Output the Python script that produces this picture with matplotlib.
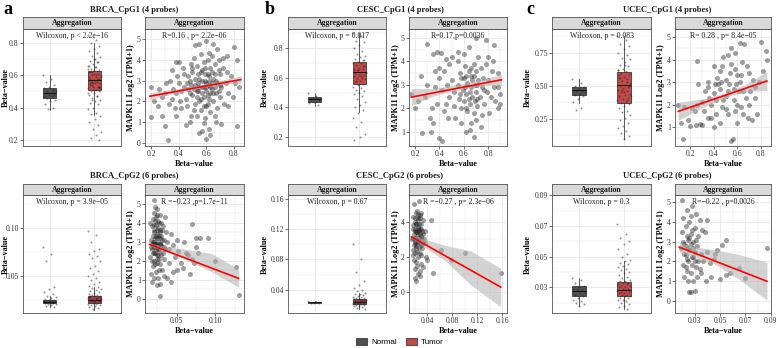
import numpy as np
import matplotlib
matplotlib.use("Agg")
import matplotlib.pyplot as plt
from matplotlib.patches import Patch
from matplotlib.ticker import AutoMinorLocator

# ---------------- data ----------------
titles = ["BRCA_CpG1 (4 probes)", "CESC_CpG1 (4 probes)", "UCEC_CpG1 (4 probes)",
          "BRCA_CpG2 (6 probes)", "CESC_CpG2 (6 probes)", "UCEC_CpG2 (6 probes)"]
wilcoxon_notes = ["Wilcoxon, p < 2.2e\u221216", "Wilcoxon, p = 0.017", "Wilcoxon, p = 0.083",
                  "Wilcoxon, p = 3.9e\u221205", "Wilcoxon, p = 0.67", "Wilcoxon, p = 0.3"]
cor_notes = ["R=0.16 , p= 2.2e\u221206", "R=0.17,p=0.0036", "R= 0.28 , p= 8.4e\u221205",
             "R =\u22120.23 ,p=1.7e\u221211", "R =\u22120.27 , p= 2.3e\u221206", "R=\u22120.22 , p=0.0026"]
groups = ["Normal", "Tumor"]

# box stats: (whisker low, q1, median, q3, whisker high)
box_normal = [(0.385, 0.46, 0.49, 0.522, 0.60),
              (0.41, 0.435, 0.455, 0.472, 0.50),
              (0.37, 0.432, 0.466, 0.495, 0.55),
              (0.018, 0.0215, 0.023, 0.0245, 0.029),
              (0.022, 0.0225, 0.0232, 0.024, 0.025),
              (0.018, 0.024, 0.0275, 0.031, 0.036)]
box_tumor = [(0.355, 0.51, 0.57, 0.627, 0.80),
             (0.37, 0.557, 0.638, 0.705, 0.90),
             (0.10, 0.37, 0.505, 0.605, 0.88),
             (0.015, 0.022, 0.025, 0.029, 0.039),
             (0.014, 0.021, 0.024, 0.0275, 0.036),
             (0.016, 0.024, 0.028, 0.0335, 0.047)]

brca1_normal = [0.60, 0.58, 0.56, 0.54, 0.53, 0.52, 0.51, 0.50, 0.50, 0.49, 0.49, 0.48, 0.48,
                0.47, 0.47, 0.46, 0.45, 0.44, 0.42, 0.40, 0.39]
brca1_tumor = [0.85, 0.82, 0.80, 0.78, 0.76, 0.75, 0.74, 0.72, 0.71, 0.70, 0.69, 0.68, 0.67,
               0.66, 0.65, 0.64, 0.63, 0.63, 0.62, 0.61, 0.60, 0.60, 0.59, 0.58, 0.58, 0.57,
               0.57, 0.56, 0.56, 0.55, 0.55, 0.54, 0.53, 0.53, 0.52, 0.51, 0.50, 0.50, 0.49,
               0.48, 0.47, 0.46, 0.45, 0.44, 0.43, 0.42, 0.40, 0.39, 0.37, 0.36, 0.35, 0.33,
               0.31, 0.29, 0.27, 0.25, 0.23, 0.21, 0.20, 0.61, 0.59, 0.57, 0.54, 0.52, 0.65,
               0.62, 0.58, 0.55, 0.64, 0.60, 0.56, 0.53, 0.51, 0.66, 0.68, 0.62, 0.59, 0.57,
               0.55, 0.53, 0.70, 0.49, 0.47, 0.45]
cesc1_normal = [0.50, 0.48, 0.46, 0.45, 0.44, 0.43, 0.42]
cesc1_tumor = [0.90, 0.88, 0.85, 0.84, 0.82, 0.80, 0.78, 0.76, 0.75, 0.74, 0.73, 0.72, 0.71,
               0.70, 0.70, 0.69, 0.68, 0.67, 0.66, 0.66, 0.65, 0.64, 0.64, 0.63, 0.62, 0.62,
               0.61, 0.60, 0.60, 0.59, 0.58, 0.57, 0.56, 0.55, 0.54, 0.53, 0.52, 0.51, 0.50,
               0.49, 0.48, 0.46, 0.44, 0.42, 0.40, 0.38, 0.36, 0.33, 0.30, 0.27, 0.22, 0.20, 0.18,
               0.68, 0.65, 0.63, 0.61, 0.58, 0.72]
ucec1_normal = [0.55, 0.52, 0.50, 0.49, 0.48, 0.47, 0.46, 0.46, 0.45, 0.44, 0.43, 0.42, 0.40,
                0.38, 0.33, 0.32]
ucec1_tumor = [0.88, 0.85, 0.82, 0.80, 0.78, 0.75, 0.73, 0.71, 0.70, 0.68, 0.66, 0.65, 0.63,
               0.62, 0.61, 0.60, 0.59, 0.57, 0.56, 0.55, 0.54, 0.52, 0.51, 0.50, 0.49, 0.48,
               0.47, 0.46, 0.45, 0.44, 0.43, 0.42, 0.41, 0.40, 0.39, 0.38, 0.37, 0.36, 0.35,
               0.33, 0.31, 0.30, 0.28, 0.26, 0.24, 0.22, 0.20, 0.18, 0.16, 0.14, 0.12, 0.10,
               0.58, 0.53, 0.47, 0.42, 0.66, 0.56, 0.50, 0.45, 0.62, 0.39]
brca2_normal = [0.080, 0.073, 0.066, 0.038, 0.036, 0.033, 0.031, 0.029, 0.028, 0.027, 0.026,
                0.025, 0.025, 0.024, 0.024, 0.023, 0.023, 0.023, 0.022, 0.022, 0.021, 0.021,
                0.020, 0.019, 0.018, 0.023, 0.024, 0.022]
brca2_tumor = [0.097, 0.092, 0.085, 0.078, 0.076, 0.073, 0.071, 0.069, 0.065, 0.060, 0.058,
               0.055, 0.052, 0.050, 0.048, 0.046, 0.044, 0.042, 0.040, 0.038, 0.037, 0.036,
               0.035, 0.034, 0.033, 0.032, 0.031, 0.030, 0.030, 0.029, 0.029, 0.028, 0.028,
               0.027, 0.027, 0.026, 0.026, 0.025, 0.025, 0.025, 0.024, 0.024, 0.024, 0.023,
               0.023, 0.022, 0.022, 0.021, 0.021, 0.020, 0.020, 0.019, 0.018, 0.017, 0.016,
               0.026, 0.027, 0.025, 0.024, 0.023, 0.028, 0.026, 0.025, 0.027, 0.024, 0.029]
cesc2_normal = [0.025, 0.024, 0.023, 0.0225, 0.022]
cesc2_tumor = [0.100, 0.080, 0.064, 0.052, 0.046, 0.042, 0.039, 0.038, 0.036, 0.035, 0.034,
               0.033, 0.032, 0.031, 0.030, 0.029, 0.029, 0.028, 0.028, 0.027, 0.027, 0.026,
               0.026, 0.025, 0.025, 0.025, 0.024, 0.024, 0.024, 0.023, 0.023, 0.023, 0.022,
               0.022, 0.021, 0.021, 0.020, 0.020, 0.019, 0.018, 0.017, 0.016, 0.015, 0.026,
               0.025, 0.024, 0.023, 0.022, 0.025, 0.024, 0.026]
ucec2_normal = [0.036, 0.035, 0.033, 0.031, 0.030, 0.029, 0.028, 0.028, 0.027, 0.026, 0.025,
                0.024, 0.023, 0.022, 0.021, 0.020, 0.019, 0.018]
ucec2_tumor = [0.071, 0.065, 0.062, 0.060, 0.058, 0.055, 0.052, 0.050, 0.048, 0.047, 0.046,
               0.045, 0.044, 0.043, 0.042, 0.041, 0.040, 0.039, 0.038, 0.037, 0.036, 0.035,
               0.034, 0.034, 0.033, 0.033, 0.032, 0.032, 0.031, 0.031, 0.030, 0.030, 0.029,
               0.029, 0.028, 0.028, 0.027, 0.027, 0.026, 0.026, 0.025, 0.025, 0.024, 0.024,
               0.023, 0.023, 0.022, 0.022, 0.021, 0.020, 0.019, 0.018, 0.017, 0.016]

brca1_points = [(0.45,2.1),(0.47,2.6),(0.48,3.0),(0.50,2.3),(0.50,3.4),(0.52,1.9),(0.52,2.8),
    (0.53,3.7),(0.54,2.5),(0.55,3.1),(0.55,2.0),(0.56,1.6),(0.57,2.7),(0.57,3.5),(0.58,2.2),
    (0.58,3.9),(0.59,3.0),(0.60,2.5),(0.60,1.8),(0.61,3.3),(0.62,2.8),(0.62,2.1),(0.63,3.6),
    (0.63,1.5),(0.64,2.6),(0.65,3.1),(0.65,2.0),(0.66,3.8),(0.67,2.4),(0.68,2.9),(0.68,1.7),
    (0.70,3.3),(0.70,2.2),(0.71,2.7),(0.72,3.6),(0.44,3.3),(0.46,1.8),(0.49,3.8),(0.51,4.1),
    (0.53,1.3),(0.56,4.3),(0.59,1.2),(0.61,4.0),(0.64,4.2),(0.66,1.3),(0.69,4.0),(0.73,1.9),
    (0.74,2.9),(0.75,3.4),(0.76,2.4),(0.42,2.5),(0.40,2.9),(0.41,2.0),(0.43,3.6),(0.38,2.4),
    (0.39,3.2),(0.36,2.6),(0.35,2.1),(0.34,3.0),(0.37,1.7),(0.33,1.9),(0.30,2.4),(0.31,2.9),
    (0.28,2.2),(0.26,2.6),(0.25,1.8),(0.22,2.0),(0.20,2.7),(0.20,1.25),(0.28,1.3),(0.30,0.8),
    (0.32,0.15),(0.38,3.9),(0.40,3.9),(0.42,1.7),(0.45,0.85),(0.48,1.0),(0.52,4.7),(0.55,4.75),
    (0.60,4.9),(0.62,4.35),(0.65,4.75),(0.68,4.5),(0.72,4.1),(0.75,4.2),(0.78,3.2),(0.80,4.6),
    (0.82,4.0),(0.82,0.8),(0.84,2.7),(0.60,0.2),(0.62,0.7),(0.55,0.5),(0.58,0.95),(0.76,1.8),
    (0.79,2.2),(0.81,2.9),(0.38,1.3),(0.47,3.2),(0.50,3.6),(0.54,2.9),(0.57,2.4),(0.60,2.9),
    (0.63,2.4),(0.66,2.7),(0.53,2.2),(0.56,3.4),(0.59,3.6),(0.62,3.2),(0.48,2.4),(0.44,2.7),
    (0.51,1.6),(0.69,3.5),(0.67,1.0),(0.71,0.9),(0.63,0.4),(0.49,1.3),(0.35,3.5),(0.57,0.6),
    (0.51,2.6),(0.54,3.3),(0.56,2.1),(0.58,2.7),(0.59,3.3),(0.61,2.3),(0.62,3.0),(0.64,2.9),
    (0.65,2.4),(0.66,3.3),(0.55,2.7),(0.57,3.0),(0.60,2.7),(0.63,2.7),(0.53,2.5),(0.49,2.8),
    (0.67,3.0),(0.69,2.5),(0.46,2.9),(0.61,1.9),(0.58,1.8),(0.52,3.1),(0.64,3.4),(0.70,2.8)]
cesc1_points = [(0.17,2.6),(0.20,2.0),(0.22,2.3),(0.26,0.95),(0.30,4.75),(0.32,1.6),(0.33,1.0),
    (0.35,4.3),(0.36,2.9),(0.38,4.4),(0.40,3.7),(0.40,0.75),(0.41,4.35),(0.42,0.6),(0.45,2.2),
    (0.48,3.9),(0.50,4.2),(0.55,4.4),(0.58,1.4),(0.62,1.0),(0.65,1.1),(0.68,0.8),(0.70,5.0),
    (0.78,4.9),(0.80,4.2),(0.85,4.7),(0.88,3.5),(0.90,2.2),(0.90,2.6),(0.88,2.0),(0.75,1.7),
    (0.55,3.0),(0.56,2.4),(0.57,3.5),(0.58,2.0),(0.59,2.8),(0.60,3.3),(0.60,2.3),(0.61,3.8),
    (0.62,2.6),(0.63,3.1),(0.63,1.9),(0.64,3.6),(0.65,2.2),(0.66,2.9),(0.66,3.4),(0.67,2.5),
    (0.68,3.9),(0.68,1.8),(0.69,3.0),(0.70,2.7),(0.70,3.6),(0.71,2.1),(0.72,3.2),(0.72,4.2),
    (0.73,2.5),(0.74,3.7),(0.75,2.9),(0.76,3.3),(0.77,2.2),(0.78,3.9),(0.79,2.7),(0.80,3.2),
    (0.82,2.5),(0.83,3.6),(0.85,2.9),(0.86,2.3),(0.52,2.7),(0.50,3.2),(0.48,2.5),(0.46,3.0),
    (0.44,1.9),(0.42,2.8),(0.40,3.3),(0.38,2.2),(0.36,3.6),(0.34,2.0),(0.30,3.0),(0.28,2.5),
    (0.25,3.4),(0.53,1.6),(0.55,4.0),(0.60,4.3),(0.64,4.6),(0.66,1.4),(0.70,1.5),(0.74,1.2),
    (0.52,2.1),(0.47,1.6),(0.44,3.6),(0.58,3.3),(0.62,2.0),(0.67,3.2),(0.71,2.4),(0.77,2.8),
    (0.81,1.8),(0.84,4.0),(0.88,2.9),(0.35,1.4),(0.45,4.1),(0.57,2.6),(0.62,3.4),(0.65,2.7),
    (0.68,3.4),(0.71,3.0),(0.64,2.4),(0.61,2.9),(0.69,2.3),(0.66,3.7)]
ucec1_points = [(0.10,2.0),(0.12,1.2),(0.14,0.45),(0.15,1.9),(0.18,1.3),(0.20,1.05),(0.22,1.85),
    (0.25,1.1),(0.26,3.95),(0.27,2.9),(0.28,1.15),(0.30,2.1),(0.32,1.7),(0.33,2.6),(0.35,2.8),
    (0.35,1.4),(0.38,1.4),(0.38,2.0),(0.40,3.7),(0.40,1.0),(0.42,2.2),(0.43,3.2),(0.45,3.5),
    (0.45,2.7),(0.47,1.9),(0.48,4.1),(0.50,3.1),(0.50,2.4),(0.52,4.2),(0.52,1.6),(0.55,4.5),
    (0.55,0.4),(0.56,0.45),(0.57,2.7),(0.58,3.6),(0.60,2.0),(0.60,1.2),(0.62,4.75),(0.63,3.3),
    (0.65,2.6),(0.66,4.7),(0.68,3.7),(0.70,2.0),(0.72,1.3),(0.75,2.8),(0.78,3.0),(0.80,4.8),
    (0.82,3.5),(0.84,4.4),(0.85,4.0),(0.30,1.1),(0.45,1.2),(0.50,1.8),(0.58,1.7),(0.62,3.0),
    (0.65,1.6),(0.70,3.4),(0.75,2.3),(0.35,3.0),(0.40,2.5),(0.36,2.3),(0.44,2.9),(0.48,2.2),
    (0.53,2.9),(0.54,3.4),(0.57,2.2),(0.61,2.6),(0.64,3.9),(0.67,2.3),(0.69,1.4),(0.73,3.1),
    (0.77,1.6),(0.46,3.0),(0.42,1.6),(0.52,2.6),(0.59,2.9),(0.63,1.9),(0.71,2.6),(0.26,2.0),
    (0.24,1.7),(0.47,3.7),(0.55,3.8),(0.58,4.3),(0.60,3.3),(0.41,2.9)]
brca2_points = [(0.016,2.2),(0.017,3.1),(0.018,2.6),(0.018,3.8),(0.019,1.7),(0.019,4.2),
    (0.020,2.9),(0.020,3.5),(0.021,2.0),(0.021,4.5),(0.022,2.4),(0.022,3.2),(0.023,1.4),
    (0.023,3.9),(0.024,2.7),(0.024,4.7),(0.025,2.1),(0.025,3.4),(0.026,1.1),(0.026,3.0),
    (0.027,2.5),(0.027,4.0),(0.028,1.8),(0.028,3.6),(0.029,2.9),(0.029,4.4),(0.030,2.3),
    (0.030,3.3),(0.031,1.5),(0.031,2.7),(0.032,3.8),(0.033,2.1),(0.033,3.1),(0.034,1.2),
    (0.035,2.6),(0.036,3.5),(0.016,4.0),(0.017,1.3),(0.018,0.9),(0.019,2.4),(0.020,1.1),
    (0.021,3.0),(0.022,4.1),(0.023,2.6),(0.024,1.9),(0.025,4.4),(0.026,2.3),(0.027,1.5),
    (0.028,2.9),(0.029,0.8),(0.030,4.0),(0.031,3.6),(0.032,2.4),(0.020,5.2),(0.022,4.8),
    (0.025,0.7),(0.028,0.15),(0.019,3.3),(0.023,2.9),(0.026,3.7),(0.024,3.2),(0.021,2.7),
    (0.027,3.3),(0.018,2.9),(0.022,1.8),(0.038,3.0),(0.040,1.9),(0.040,2.6),(0.042,3.4),
    (0.045,2.8),(0.045,1.4),(0.048,2.2),(0.050,3.1),(0.050,1.5),(0.052,2.5),(0.055,1.9),
    (0.058,1.6),(0.060,3.0),(0.062,2.4),(0.065,2.3),(0.067,1.3),(0.070,3.95),(0.070,2.1),
    (0.072,1.9),(0.075,2.7),(0.075,3.2),(0.078,2.4),(0.080,3.2),(0.090,3.2),(0.100,2.0),
    (0.127,1.65),(0.130,0.22),(0.037,1.1),(0.043,0.9),(0.035,4.3),(0.017,2.7),(0.019,3.0),
    (0.021,3.6),(0.023,3.3),(0.025,2.8),(0.027,2.1),(0.029,3.5),(0.031,3.1),(0.020,2.4),
    (0.022,2.9),(0.024,3.6),(0.026,2.6),(0.028,3.2),(0.030,2.8),(0.018,2.0),(0.023,4.3),
    (0.026,4.1),(0.020,3.9),(0.033,2.7),(0.024,2.3)]
cesc2_points = [(0.016,3.0),(0.017,3.8),(0.018,2.4),(0.018,4.3),(0.019,3.3),(0.019,1.8),
    (0.020,2.8),(0.020,4.0),(0.021,3.5),(0.021,2.2),(0.022,4.5),(0.022,3.1),(0.023,2.6),
    (0.023,3.9),(0.024,1.5),(0.024,3.4),(0.025,2.9),(0.025,4.2),(0.026,2.0),(0.026,3.7),
    (0.027,3.1),(0.027,2.5),(0.028,4.4),(0.028,1.2),(0.029,3.3),(0.030,2.7),(0.030,3.9),
    (0.031,2.1),(0.032,3.5),(0.033,2.8),(0.034,4.1),(0.035,3.0),(0.017,2.1),(0.019,5.0),
    (0.021,0.8),(0.023,0.6),(0.025,1.0),(0.027,5.2),(0.029,0.9),(0.031,1.6),(0.033,1.4),
    (0.020,1.3),(0.022,1.7),(0.024,2.3),(0.026,2.9),(0.028,3.6),(0.030,4.5),(0.018,3.6),
    (0.020,3.1),(0.022,2.5),(0.024,4.6),(0.026,4.1),(0.028,2.2),(0.030,3.2),(0.032,2.5),
    (0.036,3.5),(0.038,2.0),(0.040,1.8),(0.046,4.1),(0.050,1.1),(0.063,2.4),(0.078,1.8),
    (0.100,2.25),(0.158,1.1),(0.037,2.8),(0.019,2.7),(0.021,4.2),(0.023,3.4),(0.025,3.6),
    (0.027,3.9),(0.029,4.2),(0.031,3.0),(0.018,3.1),(0.020,3.6),(0.022,3.9),(0.024,2.8),
    (0.026,3.3),(0.028,2.8),(0.030,3.6),(0.033,3.3),(0.021,2.9),(0.025,4.4),(0.027,3.5)]
ucec2_points = [(0.019,2.7),(0.020,3.5),(0.021,1.8),(0.021,4.2),(0.022,2.9),(0.022,1.2),
    (0.023,3.8),(0.023,2.3),(0.024,4.6),(0.024,1.5),(0.025,3.1),(0.025,2.0),(0.026,4.0),
    (0.026,2.6),(0.026,0.45),(0.027,3.4),(0.027,1.4),(0.028,4.8),(0.028,2.2),(0.029,3.0),
    (0.029,1.0),(0.030,3.7),(0.030,2.5),(0.031,1.7),(0.031,4.4),(0.032,2.8),(0.032,1.2),
    (0.033,3.3),(0.033,2.0),(0.034,4.1),(0.035,2.4),(0.035,1.4),(0.036,3.6),(0.037,2.0),
    (0.038,3.5),(0.020,5.1),(0.027,0.45),(0.030,0.5),(0.024,3.3),(0.028,3.6),(0.022,2.4),
    (0.025,1.0),(0.029,2.7),(0.031,3.1),(0.034,1.6),(0.027,4.3),(0.023,1.7),(0.021,3.0),
    (0.040,4.1),(0.040,2.5),(0.042,1.9),(0.043,1.2),(0.045,2.1),(0.048,2.6),(0.050,1.1),
    (0.052,2.85),(0.055,3.1),(0.055,1.3),(0.058,1.4),(0.065,1.65),(0.070,1.15),(0.087,2.7),
    (0.046,2.4),(0.039,1.0),(0.025,2.7),(0.027,2.9),(0.029,2.2),(0.026,3.2),(0.023,2.8),
    (0.028,1.8),(0.030,2.0),(0.024,2.1)]

# regression fit lines (x ends, y ends) and 95% band (x, lower, upper)
fit_x = [(0.19, 0.85), (0.17, 0.91), (0.10, 0.85), (0.015, 0.13), (0.015, 0.158), (0.018, 0.087)]
fit_y = [(2.25, 3.05), (2.48, 3.22), (1.70, 3.05), (2.85, 1.07), (3.15, 0.28), (2.72, 1.00)]
band_x = [(0.19, 0.35, 0.55, 0.70, 0.85), (0.17, 0.35, 0.62, 0.78, 0.91),
          (0.10, 0.30, 0.50, 0.68, 0.85), (0.015, 0.03, 0.06, 0.095, 0.13),
          (0.015, 0.03, 0.07, 0.11, 0.158), (0.018, 0.028, 0.045, 0.065, 0.087)]
band_lo = [(2.08, 2.36, 2.64, 2.80, 2.88), (2.12, 2.53, 2.87, 2.98, 3.00),
           (1.30, 1.85, 2.33, 2.58, 2.63), (2.77, 2.56, 2.08, 1.42, 0.60),
           (3.05, 2.70, 1.75, 0.40, -0.85), (2.45, 2.25, 1.90, 1.10, 0.05)]
band_hi = [(2.42, 2.56, 2.78, 3.02, 3.22), (2.84, 2.85, 3.07, 3.28, 3.44),
           (2.10, 2.25, 2.53, 2.92, 3.47), (2.93, 2.80, 2.60, 2.38, 1.55),
           (3.25, 3.10, 2.65, 2.35, 1.35), (2.99, 2.75, 2.60, 2.35, 1.95)]

# ---------------- style / layout ----------------
SERIF = ["Liberation Serif", "DejaVu Serif"]
plt.rcParams["font.family"] = SERIF
W, H = 778, 348
fig = plt.figure(figsize=(W / 100, H / 100), dpi=100)

def rect(x0, x1, y0, y1):
    return [x0 / W, 1 - y1 / H, (x1 - x0) / W, (y1 - y0) / H]

rows = [(17, 29, 146), (184, 195, 313)]
cols = [((23, 121), (145, 244)), ((288, 386), (409, 507)), ((552, 651), (675, 771))]
box_label_x = [6, 265, 528]
sc_label_x = [131, 396, 661]
title_x = [134, 400, 667]
box_ylims = [(0.163, 0.886), (0.14, 0.93), (0.045, 0.93), (0.0115, 0.134), (0.0093, 0.165), (0.0132, 0.0902)]
box_yticks = [[0.2, 0.4, 0.6, 0.8], [0.2, 0.4, 0.6, 0.8], [0.25, 0.50, 0.75],
              [0.05, 0.10], [0.04, 0.08, 0.12, 0.16], [0.03, 0.05, 0.07, 0.09]]
box_fmt = ["%.1f", "%.1f", "%.2f", "%.2f", "%.2f", "%.2f"]
sc_xlims = [(0.156, 0.873), (0.15, 0.955), (0.072, 0.885), (0.009, 0.137), (0.011, 0.168), (0.0146, 0.0902)]
sc_ylims = [(-0.14, 5.48), (0.4, 5.38), (0.16, 5.36), (-0.75, 5.45), (-1.2, 5.54), (-0.6, 5.35)]
sc_xticks = [[0.2, 0.4, 0.6, 0.8]] * 3 + [[0.05, 0.10], [0.04, 0.08, 0.12, 0.16], [0.03, 0.05, 0.07, 0.09]]
sc_xfmt = ["%.1f", "%.1f", "%.1f", "%.2f", "%.2f", "%.2f"]
sc_yticks = [[0, 1, 2, 3, 4, 5], [1, 2, 3, 4, 5], [1, 2, 3, 4, 5], [0, 1, 2, 3, 4, 5], [0, 2, 4], [0, 1, 2, 3, 4, 5]]

normals = [brca1_normal, cesc1_normal, ucec1_normal, brca2_normal, cesc2_normal, ucec2_normal]
tumors = [brca1_tumor, cesc1_tumor, ucec1_tumor, brca2_tumor, cesc2_tumor, ucec2_tumor]
points = [brca1_points, cesc1_points, ucec1_points, brca2_points, cesc2_points, ucec2_points]

BORDER = "#555555"
GRID = "#e6e6e6"
FS = 5.6
box_colors = ["#4f4f4f", "#c24b48"]

def style_axes(ax):
    for s in ax.spines.values():
        s.set_color(BORDER)
        s.set_linewidth(0.6)
    ax.tick_params(which="major", length=2, width=0.5, color="#333333", labelsize=FS, pad=1,
                   labelcolor="#333333")
    ax.tick_params(which="minor", length=0)
    ax.set_axisbelow(True)

def add_strip(ax_rect):
    sa = fig.add_axes(ax_rect)
    sa.set_facecolor("#d9d9d9")
    sa.set_xticks([]); sa.set_yticks([])
    for s in sa.spines.values():
        s.set_color(BORDER); s.set_linewidth(0.6)
    sa.text(0.5, 0.5, "Aggregation", ha="center", va="center", fontsize=FS, fontweight="bold",
            color="#1a1a1a", transform=sa.transAxes)

def jitter(n, width):
    return ((np.arange(n) * 0.6180339887) % 1.0 - 0.5) * width

for i in range(6):
    r, c = divmod(i, 3)
    s_top, p_top, p_bot = rows[r]
    (bx0, bx1), (sx0, sx1) = cols[c]

    # ---- box plot panel ----
    ax = fig.add_axes(rect(bx0, bx1, p_top, p_bot))
    style_axes(ax)
    stats = []
    for st, lab in ((box_normal[i], groups[0]), (box_tumor[i], groups[1])):
        wl, q1, med, q3, wh = st
        stats.append(dict(whislo=wl, q1=q1, med=med, q3=q3, whishi=wh, fliers=[], label=lab))
    bp = ax.bxp(stats, positions=[1, 2], widths=0.3, patch_artist=True, showfliers=False,
                showcaps=False, manage_ticks=False,
                boxprops=dict(linewidth=0.5, edgecolor="#222222"),
                whiskerprops=dict(linewidth=0.5, color="#222222"),
                medianprops=dict(linewidth=0.7, color="#111111"))
    for patch, col in zip(bp["boxes"], box_colors):
        patch.set_facecolor(col)
    for pos, vals in ((1, normals[i]), (2, tumors[i])):
        v = np.asarray(vals)
        ax.scatter(pos + jitter(len(v), 0.3), v, s=2.0, color="#222222", alpha=0.5,
                   linewidths=0, zorder=4)
    ax.set_xlim(0.4, 2.6)
    ax.set_ylim(*box_ylims[i])
    ax.set_xticks([1, 2])
    ax.set_xticklabels([])
    ax.tick_params(axis="x", length=0)
    ax.set_yticks(box_yticks[i])
    ax.set_yticklabels([box_fmt[i] % t for t in box_yticks[i]])
    ax.yaxis.set_minor_locator(AutoMinorLocator(2))
    ax.grid(True, which="major", color=GRID, linewidth=0.6)
    ax.grid(True, which="minor", axis="y", color=GRID, linewidth=0.35)
    ax.set_ylabel("Beta\u2212value", fontsize=FS + 0.3, fontweight="bold", va="center")
    ax.yaxis.set_label_coords((box_label_x[c] - bx0) / (bx1 - bx0), 0.5)
    ax.text(0.5, 1 - 3 / (p_bot - p_top), wilcoxon_notes[i], ha="center", va="top",
            fontsize=FS, color="#222222", transform=ax.transAxes)
    add_strip(rect(bx0, bx1, s_top, p_top))

    # ---- scatter panel ----
    ax2 = fig.add_axes(rect(sx0, sx1, p_top, p_bot))
    style_axes(ax2)
    pts = np.asarray(points[i])
    ax2.scatter(pts[:, 0], pts[:, 1], s=13, color="#1a1a1a", alpha=0.42, linewidths=0, zorder=2)
    ax2.fill_between(band_x[i], band_lo[i], band_hi[i], color="#b0b0b0", alpha=0.55,
                     linewidth=0, zorder=3)
    ax2.plot(fit_x[i], fit_y[i], color="#ff0000", linewidth=1.2, zorder=4)
    ax2.set_xlim(*sc_xlims[i])
    ax2.set_ylim(*sc_ylims[i])
    ax2.set_xticks(sc_xticks[i])
    ax2.set_xticklabels([sc_xfmt[i] % t for t in sc_xticks[i]])
    ax2.set_yticks(sc_yticks[i])
    ax2.xaxis.set_minor_locator(AutoMinorLocator(2))
    ax2.yaxis.set_minor_locator(AutoMinorLocator(2))
    ax2.grid(True, which="major", color=GRID, linewidth=0.6)
    ax2.grid(True, which="minor", color=GRID, linewidth=0.35)
    ax2.set_xlabel("Beta\u2212value", fontsize=FS + 0.3, fontweight="bold", labelpad=1)
    ax2.set_ylabel("MAPK11 Log2 (TPM+1)", fontsize=FS + 0.3, fontweight="bold", va="center")
    ax2.yaxis.set_label_coords((sc_label_x[c] - sx0) / (sx1 - sx0), 0.5)
    ax2.text(0.5, 1 - 3 / (p_bot - p_top), cor_notes[i], ha="center", va="top",
             fontsize=FS, color="#222222", transform=ax2.transAxes, zorder=6)
    add_strip(rect(sx0, sx1, s_top, p_top))

    # ---- block title ----
    ty = 10 if r == 0 else 176
    fig.text(title_x[c] / W, 1 - ty / H, titles[i], ha="center", va="center",
             fontsize=6.1, fontweight="bold", color="#1a1a1a")

for lab, xp in zip(["a", "b", "c"], [8, 270, 530]):
    fig.text(xp / W, 1 - 10 / H, lab, ha="center", va="center", fontsize=13, fontweight="bold")

handles = [Patch(facecolor=col, edgecolor="#222222", linewidth=0.5, label=g)
           for g, col in zip(groups, box_colors)]
leg = fig.legend(handles=handles, loc="center", bbox_to_anchor=(400 / W, 1 - 342 / H), ncol=2,
                 frameon=False, prop={"family": ["Liberation Sans", "DejaVu Sans"], "size": 5.8},
                 handlelength=1.3, handleheight=1.1, handletextpad=0.5, columnspacing=1.2)

fig.savefig("out.png", dpi=100)
